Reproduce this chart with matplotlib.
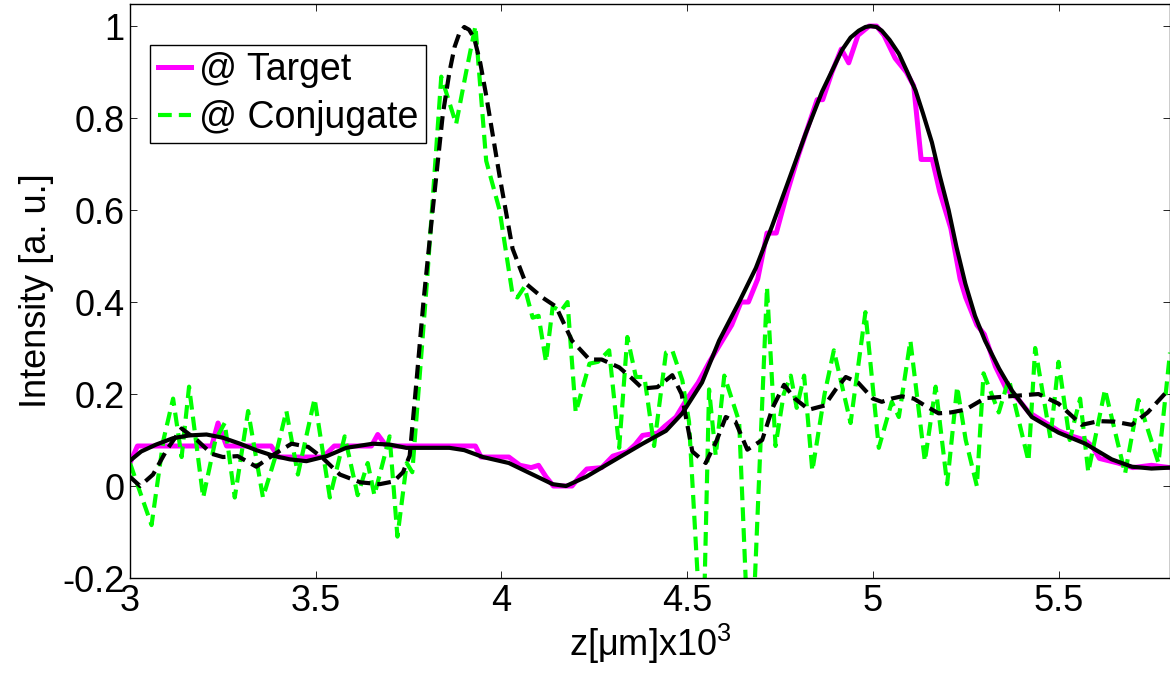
import matplotlib
matplotlib.use("Agg")
import matplotlib.pyplot as plt
from matplotlib.ticker import FuncFormatter

plt.rcParams['font.family'] = ['Liberation Sans', 'DejaVu Sans']
plt.rcParams['mathtext.fontset'] = 'custom'
plt.rcParams['mathtext.rm'] = 'Liberation Sans'
plt.rcParams['mathtext.it'] = 'Liberation Sans'

# raw intensity at the target plane (magenta)
target_x = [3.00, 3.02, 3.22, 3.237, 3.26, 3.38, 3.40, 3.52, 3.55, 3.65, 3.667, 3.69,
            3.93, 3.945, 4.02, 4.05, 4.08, 4.10, 4.12, 4.14, 4.19, 4.21, 4.23, 4.27,
            4.30, 4.34, 4.36, 4.38, 4.42, 4.44, 4.47, 4.50, 4.53, 4.56, 4.59, 4.62,
            4.645, 4.665, 4.69, 4.715, 4.74, 4.77, 4.80, 4.825, 4.85, 4.865, 4.89,
            4.915, 4.935, 4.96, 4.99, 5.01, 5.03, 5.06, 5.09, 5.11, 5.13, 5.16, 5.18,
            5.21, 5.235, 5.25, 5.28, 5.30, 5.33, 5.36, 5.39, 5.42, 5.46, 5.50, 5.53,
            5.57, 5.59, 5.61, 5.66, 5.70, 5.75, 5.80]
target_y = [0.05, 0.087, 0.087, 0.137, 0.087, 0.087, 0.063, 0.063, 0.087, 0.087, 0.112, 0.087,
            0.087, 0.063, 0.063, 0.045, 0.04, 0.045, 0.02, 0.0, 0.0, 0.02, 0.037, 0.04,
            0.065, 0.075, 0.09, 0.11, 0.115, 0.13, 0.15, 0.19, 0.225, 0.27, 0.31, 0.35,
            0.40, 0.40, 0.45, 0.55, 0.55, 0.64, 0.72, 0.78, 0.84, 0.84, 0.90,
            0.95, 0.92, 0.98, 1.0, 1.0, 0.98, 0.93, 0.90, 0.87, 0.71, 0.71, 0.64,
            0.56, 0.45, 0.41, 0.35, 0.33, 0.26, 0.21, 0.19, 0.16, 0.14, 0.12, 0.11,
            0.10, 0.087, 0.06, 0.05, 0.04, 0.045, 0.04]

# raw intensity at the conjugate plane (green)
conj_x = [3.000, 3.030, 3.058, 3.090, 3.116, 3.139, 3.159, 3.197, 3.230, 3.255, 3.282,
          3.318, 3.358, 3.390, 3.421, 3.452, 3.497, 3.538, 3.578, 3.613, 3.640, 3.658,
          3.699, 3.720, 3.745, 3.760, 3.800, 3.838, 3.878, 3.905, 3.930, 3.959, 3.995,
          4.030, 4.043, 4.062, 4.084, 4.100, 4.120, 4.138, 4.160, 4.178, 4.200, 4.237,
          4.260, 4.290, 4.317, 4.339, 4.362, 4.385, 4.411, 4.443, 4.460, 4.487, 4.505,
          4.532, 4.546, 4.559, 4.577, 4.600, 4.640, 4.660, 4.680, 4.715, 4.738, 4.760,
          4.779, 4.795, 4.815, 4.837, 4.870, 4.895, 4.940, 4.980, 5.016, 5.051, 5.070,
          5.101, 5.140, 5.169, 5.200, 5.227, 5.250, 5.280, 5.298, 5.339, 5.366, 5.419,
          5.437, 5.478, 5.500, 5.530, 5.558, 5.580, 5.625, 5.679, 5.715, 5.769, 5.800]
conj_y = [0.05, -0.02, -0.085, 0.10, 0.19, 0.063, 0.216, -0.025, 0.10, 0.137, -0.025,
          0.163, -0.025, 0.06, 0.163, 0.025, 0.19, -0.025, 0.108, -0.02, 0.05, -0.02,
          0.108, -0.11, 0.05, 0.03, 0.45, 0.89, 0.787, 0.90, 1.0, 0.707, 0.60,
          0.416, 0.41, 0.433, 0.366, 0.37, 0.27, 0.39, 0.38, 0.40, 0.16, 0.266,
          0.27, 0.295, 0.083, 0.324, 0.237, 0.237, 0.087, 0.29, 0.295, 0.23, 0.14,
          -0.25, -0.25, 0.21, 0.066, 0.24, 0.14, -0.25, -0.25, 0.432, 0.087, 0.20,
          0.24, 0.17, 0.24, 0.033, 0.20, 0.295, 0.137, 0.378, 0.083, 0.183, 0.15,
          0.316, 0.054, 0.216, 0.004, 0.216, 0.10, 0.0, 0.245, 0.16, 0.233, 0.054,
          0.30, 0.104, 0.27, 0.10, 0.19, 0.03, 0.21, 0.027, 0.187, 0.05, 0.29]

# smoothed target curve (black solid)
fit_t_x = [3.000, 3.030, 3.070, 3.116, 3.160, 3.206, 3.250, 3.296, 3.340, 3.385, 3.430,
           3.475, 3.530, 3.582, 3.654, 3.700, 3.744, 3.800, 3.860, 3.900, 3.950, 4.020,
           4.084, 4.138, 4.174, 4.228, 4.308, 4.380, 4.443, 4.487, 4.540, 4.586, 4.640,
           4.685, 4.729, 4.774, 4.819, 4.863, 4.917, 4.940, 4.962, 4.980, 4.994, 5.010,
           5.024, 5.045, 5.070, 5.090, 5.115, 5.135, 5.159, 5.180, 5.204, 5.225, 5.249,
           5.275, 5.302, 5.340, 5.374, 5.428, 5.500, 5.572, 5.643, 5.697, 5.750, 5.800]
fit_t_y = [0.055, 0.075, 0.09, 0.104, 0.11, 0.112, 0.105, 0.092, 0.078, 0.066, 0.058,
           0.054, 0.065, 0.083, 0.092, 0.09, 0.083, 0.083, 0.083, 0.078, 0.063, 0.05,
           0.025, 0.004, 0.0, 0.02, 0.058, 0.092, 0.12, 0.158, 0.225, 0.316, 0.40,
           0.474, 0.566, 0.666, 0.766, 0.857, 0.948, 0.975, 0.99, 0.998, 1.0, 0.998,
           0.99, 0.97, 0.94, 0.905, 0.86, 0.81, 0.747, 0.675, 0.60, 0.52, 0.44,
           0.37, 0.316, 0.255, 0.208, 0.15, 0.116, 0.092, 0.058, 0.042, 0.038, 0.04]

# smoothed conjugate curve (black dashed)
fit_c_x = [3.000, 3.027, 3.062, 3.100, 3.139, 3.180, 3.220, 3.250, 3.290, 3.340, 3.390,
           3.435, 3.480, 3.520, 3.565, 3.620, 3.672, 3.710, 3.735, 3.753, 3.771, 3.790,
           3.815, 3.842, 3.860, 3.874, 3.887, 3.900, 3.913, 3.927, 3.943, 3.959, 3.995,
           4.030, 4.066, 4.110, 4.147, 4.190, 4.237, 4.270, 4.317, 4.350, 4.380, 4.420,
           4.460, 4.485, 4.514, 4.550, 4.580, 4.604, 4.630, 4.662, 4.702, 4.730, 4.761,
           4.790, 4.828, 4.870, 4.900, 4.927, 4.960, 5.000, 5.024, 5.050, 5.078, 5.110,
           5.140, 5.177, 5.210, 5.249, 5.302, 5.366, 5.446, 5.500, 5.562, 5.608, 5.650,
           5.697, 5.740, 5.790, 5.800]
fit_c_y = [0.02, 0.0, 0.025, 0.08, 0.125, 0.10, 0.07, 0.063, 0.065, 0.042, 0.07,
           0.092, 0.085, 0.06, 0.025, 0.008, 0.004, 0.01, 0.03, 0.066, 0.225, 0.40,
           0.60, 0.807, 0.90, 0.955, 0.985, 0.998, 0.992, 0.973, 0.92, 0.849, 0.674,
           0.516, 0.44, 0.41, 0.39, 0.316, 0.275, 0.275, 0.258, 0.235, 0.212, 0.215,
           0.241, 0.20, 0.075, 0.05, 0.10, 0.15, 0.14, 0.079, 0.10, 0.17, 0.22,
           0.19, 0.166, 0.175, 0.21, 0.237, 0.225, 0.19, 0.183, 0.19, 0.195, 0.19,
           0.175, 0.158, 0.16, 0.166, 0.191, 0.195, 0.20, 0.179, 0.133, 0.141, 0.14,
           0.133, 0.16, 0.204, 0.21]

x_ticks = [3, 3.5, 4, 4.5, 5, 5.5]
y_ticks = [-0.2, 0, 0.2, 0.4, 0.6, 0.8, 1]

fig = plt.figure(figsize=(11.7, 6.74), dpi=100)
ax = fig.add_axes([130 / 1170, 96 / 674, 1040 / 1170, 574 / 674])

ax.plot(target_x, target_y, color='#ff00ff', lw=3.6, label='@ Target')
ax.plot(conj_x, conj_y, color='#00ff00', lw=3.0, ls='--', dashes=(3.3, 1.7), label='@ Conjugate')
ax.plot(fit_t_x, fit_t_y, color='black', lw=3.0)
ax.plot(fit_c_x, fit_c_y, color='black', lw=3.0, ls='--', dashes=(3.3, 1.7))

ax.set_xlim(3, 5.8)
ax.set_ylim(-0.2, 1.048)
ax.set_xticks(x_ticks)
ax.set_yticks(y_ticks)
fmt = FuncFormatter(lambda v, p: f"{v:g}")
ax.xaxis.set_major_formatter(fmt)
ax.yaxis.set_major_formatter(fmt)
ax.tick_params(direction='in', length=5, width=0.6, labelsize=26,
               top=True, right=True, pad=4)
for s in ax.spines.values():
    s.set_linewidth(1.0)

ax.set_xlabel(r'z[$\mu$m]x10$^3$', fontsize=26, labelpad=2)
ax.set_ylabel('Intensity [a. u.]', fontsize=26, labelpad=6)

leg = ax.legend(loc='upper left', bbox_to_anchor=(20 / 1040, 1 - 41 / 574),
                borderaxespad=0, fontsize=27, handlelength=0.9, handletextpad=0.2,
                borderpad=0.2, labelspacing=0.3, fancybox=False, framealpha=1,
                edgecolor='black')
leg.get_frame().set_linewidth(1.0)

fig.savefig('out.png', dpi=100)
